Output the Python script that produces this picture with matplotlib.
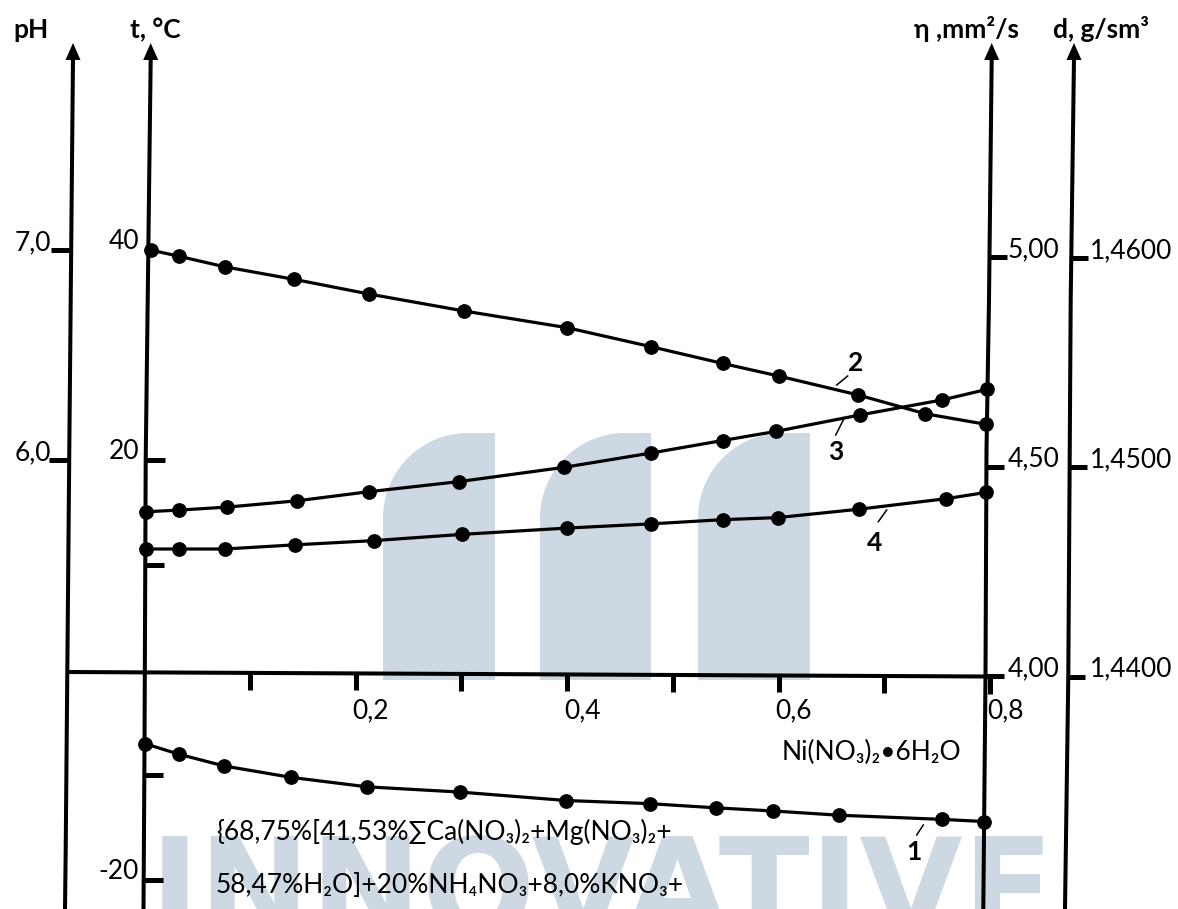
import numpy as np
import matplotlib
matplotlib.use('Agg')
import matplotlib.pyplot as plt
from matplotlib.patches import Polygon

plt.rcParams['font.family'] = ['Lato', 'DejaVu Sans']

# composition axis, mass % Ni(NO3)2*6H2O
x_ticks = [0.1, 0.2, 0.3, 0.4, 0.5, 0.6, 0.7, 0.8]
x_labels = ['0,2', '0,4', '0,6', '0,8']

# curve 1 - crystallization temperature, C
x1 = [0.001, 0.033, 0.075, 0.139, 0.211, 0.299, 0.399, 0.478, 0.541, 0.595, 0.657, 0.755, 0.794]
t1 = [-7.0, -8.0, -9.1, -10.2, -11.1, -11.6, -12.4, -12.7, -13.1, -13.4, -13.8, -14.2, -14.4]
# curve 2 - pH
x2 = [0.006, 0.033, 0.076, 0.142, 0.213, 0.302, 0.400, 0.479, 0.547, 0.600, 0.675, 0.739, 0.796]
ph2 = [7.00, 6.97, 6.92, 6.86, 6.79, 6.71, 6.63, 6.54, 6.46, 6.40, 6.31, 6.22, 6.17]
# curve 3 - viscosity, mm2/s
x3 = [0.002, 0.033, 0.078, 0.144, 0.213, 0.298, 0.397, 0.479, 0.547, 0.598, 0.677, 0.755, 0.797]
eta3 = [4.392, 4.396, 4.403, 4.418, 4.440, 4.464, 4.498, 4.532, 4.562, 4.584, 4.623, 4.659, 4.684]
# curve 4 - density, g/sm3
x4 = [0.002, 0.033, 0.076, 0.143, 0.217, 0.301, 0.400, 0.479, 0.547, 0.599, 0.676, 0.758, 0.796]
d4 = [1.4461, 1.4461, 1.4461, 1.4463, 1.4465, 1.4468, 1.4471, 1.4473, 1.4475, 1.4476, 1.4480, 1.4485, 1.4488]

t_ticks = [20, 10, -10, -20]
t_labels = [40, 20, -20]
ph_ticks = [6.0, 7.0]
eta_ticks = [4.0, 4.5, 5.0]
d_ticks = [1.44, 1.45, 1.46]

W, H = 1178, 909
FS = 19
wm = '#cdd8e3'

fig = plt.figure(figsize=(W / 100, H / 100), dpi=100)


def fx(px):
    return px / W


def fy(py):
    return 1 - py / H


def line_px(pts, **kw):
    ax.plot([fx(p[0]) for p in pts], [fy(p[1]) for p in pts],
            transform=fig.transFigure, clip_on=False, **kw)


def y_px(a, v):
    return H - a.transData.transform((0, v))[1]


def x_px(v):
    return ax.transData.transform((v, 0))[0]


def axis_x_at(pts, py):
    ys = [p[1] for p in pts]
    xs = [p[0] for p in pts]
    return np.interp(py, ys, xs)


ax = fig.add_axes([0, 0, 1, 1])
ax.set_xlim(-144.3 / 1057.1, (W - 144.3) / 1057.1)
ax.set_ylim((670.3 - H) / 10.5, 670.3 / 10.5)
ax.axis('off')
ax.patch.set_visible(False)


def twin(lo, hi):
    a = ax.twinx()
    a.set_ylim(lo, hi)
    a.axis('off')
    return a


ax_ph = twin(7 - (H - 250) / 210, 7 + 250 / 210)
ax_eta = twin(4 - (H - 676) / 419, 4 + 676 / 419)
ax_d = twin(1.44 - (H - 676.7) / 20935, 1.44 + 676.7 / 20935)

# watermark
for left, right in [(383, 495), (540, 651), (698, 810)]:
    top, r = 433, 85
    phi = np.linspace(0, np.pi / 2, 30)
    pts = [(right, 680), (right, top)]
    pts += [(left + r - r * np.sin(p), top + r - r * np.cos(p)) for p in phi]
    pts += [(left, 680)]
    fig.add_artist(Polygon([(fx(a), fy(b)) for a, b in pts], closed=True,
                           transform=fig.transFigure, color=wm, lw=0, zorder=-1))
fig.text(fx(150), fy(934), 'INNOVATIVE', fontsize=96, weight='bold', color=wm,
         family='DejaVu Sans', ha='left', va='baseline', zorder=-1)

# vertical axes (slightly slanted, as drawn)
ph_axis = [(73, 58), (70.7, 300), (69.3, 450), (65.7, 850), (65, 909)]
t_axis = [(150.7, 58), (147.7, 300), (145.7, 460), (144.5, 750), (143.5, 909)]
eta_axis = [(991.7, 58), (989, 300), (986.5, 450), (985.5, 676), (983.3, 909)]
d_axis = [(1074, 58), (1070.7, 300), (1068.3, 676), (1065, 909)]
for pts in [ph_axis, t_axis, eta_axis, d_axis]:
    line_px(pts, color='black', lw=2.9, solid_capstyle='butt')
    tx = pts[0][0]
    tri = [(tx - 7.5, 60), (tx + 7.5, 60), (tx, 43)]
    fig.add_artist(Polygon([(fx(a), fy(b)) for a, b in tri], closed=True,
                           transform=fig.transFigure, color='black', lw=0))

# horizontal axis
h_axis = [(67, 672), (985.5, 676.5)]
line_px(h_axis, color='black', lw=2.9, solid_capstyle='butt')
for v in x_ticks:
    px = x_px(v)
    py = np.interp(px, [p[0] for p in h_axis], [p[1] for p in h_axis])
    line_px([(px, py), (px, py + 17)], color='black', lw=3.6, solid_capstyle='butt')
for lab in x_labels:
    px = x_px(float(lab.replace(',', '.')))
    fig.text(fx(px - 3), fy(718), lab, fontsize=FS, ha='left', va='baseline')

# y ticks
for v in ph_ticks:
    py = y_px(ax_ph, v)
    ax_x = axis_x_at(ph_axis, py)
    line_px([(ax_x - 20, py), (ax_x, py)], color='black', lw=3.6, solid_capstyle='butt')
    fig.text(fx(51), fy(py), f'{v:.1f}'.replace('.', ','), fontsize=FS, ha='right', va='baseline')
for v in t_ticks:
    py = y_px(ax, v)
    ax_x = axis_x_at(t_axis, py)
    line_px([(ax_x, py), (ax_x + 19, py)], color='black', lw=3.6, solid_capstyle='butt')
for v in t_labels:
    py = y_px(ax, v)
    fig.text(fx(139), fy(py - 1), str(v), fontsize=FS, ha='right', va='baseline')
for v in eta_ticks:
    py = y_px(ax_eta, v)
    ax_x = axis_x_at(eta_axis, py)
    line_px([(ax_x, py), (ax_x + 18, py)], color='black', lw=3.6, solid_capstyle='butt')
    fig.text(fx(1008), fy(py), f'{v:.2f}'.replace('.', ','), fontsize=FS, ha='left', va='baseline')
for v in d_ticks:
    py = y_px(ax_d, v)
    ax_x = axis_x_at(d_axis, py)
    line_px([(ax_x, py), (ax_x + 17, py)], color='black', lw=3.6, solid_capstyle='butt')
    fig.text(fx(1090), fy(py), f'{v:.4f}'.replace('.', ','), fontsize=FS, ha='left', va='baseline')

# axis titles
for px, txt in [(13, 'pH'), (130, 't, °C'), (914, 'η ,mm²/s'), (1053, 'd, g/sm³')]:
    fig.text(fx(px), fy(38), txt, fontsize=FS, weight='bold', ha='left', va='baseline')

# curves
style = dict(color='black', lw=2.3, marker='o', ms=9.6)
ax.plot(x1, t1, **style)
ax_ph.plot(x2, ph2, **style)
ax_eta.plot(x3, eta3, **style)
ax_d.plot(x4, d4, **style)

# curve numbers with leader lines
for num, (cx, cy), lead in [('2', (856, 363), [(836.7, 385), (847.7, 376)]),
                            ('3', (836, 452), [(835.7, 435), (843.3, 420)]),
                            ('4', (875, 543), [(878.3, 521.7), (886.7, 510)]),
                            ('1', (914, 852), [(916.7, 835), (923.3, 825)])]:
    line_px(lead, color='black', lw=1.1)
    fig.text(fx(cx), fy(cy), num, fontsize=FS, weight='bold', ha='center', va='center')

# compositions
fig.text(fx(782), fy(760), 'Ni(NO₃)₂•6H₂O', fontsize=FS, ha='left', va='baseline')
fig.text(fx(216), fy(840), '{68,75%[41,53%∑Ca(NO₃)₂+Mg(NO₃)₂+', fontsize=FS, ha='left', va='baseline')
fig.text(fx(216), fy(893), '58,47%H₂O]+20%NH₄NO₃+8,0%KNO₃+', fontsize=FS, ha='left', va='baseline')

fig.savefig('out.png', dpi=100)
